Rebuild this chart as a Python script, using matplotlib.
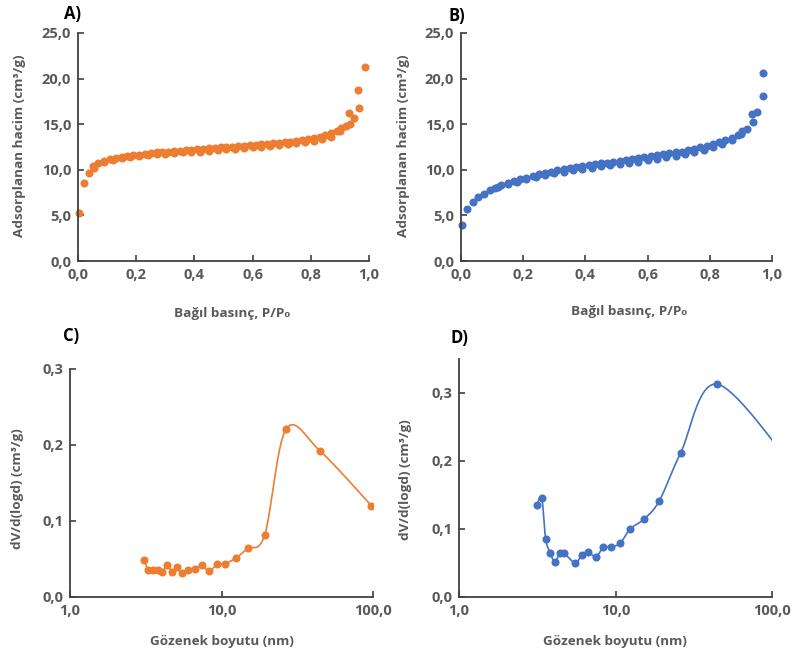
import numpy as np
import matplotlib
matplotlib.use("Agg")
import matplotlib.pyplot as plt
from matplotlib.ticker import FuncFormatter, FixedLocator

plt.rcParams['font.family'] = ['Open Sans', 'DejaVu Sans']

ORANGE = '#ED7D31'
BLUE = '#4472C4'
GREY = '#595959'
AXIS = '#404040'

# A) isotherm, sample 1
a_ads_p = [0.005, 0.022, 0.038, 0.053, 0.07, 0.09, 0.11, 0.13, 0.15, 0.17, 0.19, 0.21,
           0.23, 0.25, 0.27, 0.29, 0.31, 0.33, 0.35, 0.37, 0.39, 0.41, 0.43, 0.45, 0.47,
           0.49, 0.51, 0.53, 0.55, 0.57, 0.59, 0.61, 0.63, 0.65, 0.67, 0.69, 0.71, 0.73,
           0.75, 0.77, 0.79, 0.81, 0.83, 0.85, 0.87, 0.89, 0.905, 0.92, 0.935, 0.95,
           0.966, 0.986]
a_ads_v = [5.3, 8.6, 9.7, 10.4, 10.8, 11.0, 11.15, 11.3, 11.4, 11.5, 11.6, 11.65,
           11.75, 11.8, 11.9, 11.95, 12.0, 12.05, 12.1, 12.15, 12.2, 12.25, 12.3, 12.35, 12.4,
           12.45, 12.5, 12.55, 12.6, 12.65, 12.7, 12.75, 12.8, 12.85, 12.9, 12.95, 13.0, 13.1,
           13.2, 13.3, 13.4, 13.5, 13.65, 13.8, 14.0, 14.25, 14.55, 14.8, 15.0, 15.7,
           16.8, 21.3]
a_des_p = [0.963, 0.932, 0.90, 0.87, 0.84, 0.81, 0.78, 0.75, 0.72, 0.69, 0.66, 0.63,
           0.60, 0.57, 0.54, 0.51, 0.48, 0.45, 0.42, 0.39, 0.36, 0.33, 0.30, 0.27, 0.24,
           0.21, 0.18, 0.15, 0.12, 0.09, 0.055]
a_des_v = [18.8, 16.2, 14.3, 13.6, 13.4, 13.2, 13.05, 12.95, 12.8, 12.7, 12.6, 12.55,
           12.45, 12.4, 12.3, 12.25, 12.15, 12.1, 12.0, 11.95, 11.9, 11.85, 11.75, 11.7, 11.6,
           11.5, 11.4, 11.3, 11.1, 10.85, 10.2]

# B) isotherm, sample 2
b_ads_p = [0.003, 0.018, 0.038, 0.056, 0.075, 0.093, 0.11, 0.13, 0.15, 0.17, 0.19, 0.21,
           0.23, 0.25, 0.27, 0.29, 0.31, 0.33, 0.35, 0.37, 0.39, 0.41, 0.43, 0.45, 0.47,
           0.49, 0.51, 0.53, 0.55, 0.57, 0.59, 0.61, 0.63, 0.65, 0.67, 0.69, 0.71, 0.73,
           0.75, 0.77, 0.79, 0.81, 0.83, 0.85, 0.87, 0.89, 0.905, 0.92, 0.938, 0.953, 0.972]
b_ads_v = [4.0, 5.7, 6.5, 7.0, 7.4, 7.75, 8.05, 8.3, 8.55, 8.75, 8.95, 9.15,
           9.35, 9.5, 9.65, 9.8, 9.95, 10.05, 10.2, 10.3, 10.4, 10.5, 10.6, 10.7, 10.8,
           10.9, 11.0, 11.1, 11.2, 11.3, 11.4, 11.5, 11.6, 11.7, 11.8, 11.9, 12.0, 12.15,
           12.3, 12.45, 12.6, 12.8, 13.0, 13.25, 13.5, 13.85, 14.2, 14.5, 15.2, 16.3, 18.1]
b_des_p = [0.972, 0.936, 0.90, 0.87, 0.84, 0.81, 0.78, 0.75, 0.72, 0.69, 0.66, 0.63,
           0.60, 0.57, 0.54, 0.51, 0.48, 0.45, 0.42, 0.39, 0.36, 0.33, 0.30, 0.27, 0.24,
           0.21, 0.18, 0.15, 0.12]
b_des_v = [20.65, 16.1, 13.9, 13.3, 12.8, 12.45, 12.15, 11.95, 11.75, 11.55, 11.35, 11.2,
           11.05, 10.9, 10.8, 10.65, 10.5, 10.4, 10.25, 10.1, 9.95, 9.8, 9.6, 9.4, 9.2,
           9.0, 8.7, 8.4, 8.1]

# C) pore size distribution, sample 1
c_d = [3.09, 3.29, 3.55, 3.8, 4.07, 4.39, 4.73, 5.1, 5.45, 6.04, 6.68, 7.4, 8.3,
       9.33, 10.5, 12.4, 14.9, 19.3, 26.7, 44.8, 97.7]
c_dv = [0.049, 0.035, 0.035, 0.035, 0.033, 0.042, 0.033, 0.039, 0.031, 0.035, 0.037,
        0.042, 0.034, 0.043, 0.044, 0.051, 0.064, 0.082, 0.221, 0.192, 0.120]

# D) pore size distribution, sample 2 (last point lies past the 100 nm edge)
d_d = [3.14, 3.38, 3.58, 3.83, 4.1, 4.4, 4.71, 5.54, 6.08, 6.7, 7.5, 8.36, 9.4,
       10.7, 12.4, 15.1, 19.0, 26.1, 44.5, 140.0]
d_dv = [0.135, 0.145, 0.085, 0.065, 0.051, 0.064, 0.064, 0.050, 0.062, 0.066, 0.059,
        0.073, 0.074, 0.079, 0.100, 0.114, 0.141, 0.212, 0.313, 0.188]


def comma(fmt):
    return FuncFormatter(lambda v, pos: (fmt % v).replace('.', ','))


def smooth_log(xs, ys, w, h, ymax, n=30):
    # Catmull-Rom style bezier through the points, in log-x screen units
    px = np.log10(xs) / 2.0 * w
    py = np.asarray(ys) / ymax * h
    pts = np.column_stack([px, py])
    out = []
    for i in range(len(pts) - 1):
        p0 = pts[i - 1] if i > 0 else pts[i]
        p1, p2 = pts[i], pts[i + 1]
        p3 = pts[i + 2] if i + 2 < len(pts) else pts[i + 1]
        c1 = p1 + (p2 - p0) / 6.0
        c2 = p2 - (p3 - p1) / 6.0
        t = np.linspace(0, 1, n)[:, None]
        seg = ((1 - t) ** 3 * p1 + 3 * (1 - t) ** 2 * t * c1
               + 3 * (1 - t) * t ** 2 * c2 + t ** 3 * p2)
        out.append(seg)
    seg = np.vstack(out)
    return 10 ** (seg[:, 0] / w * 2.0), seg[:, 1] / h * ymax


def style(ax):
    for s in ('top', 'right'):
        ax.spines[s].set_visible(False)
    for s in ('left', 'bottom'):
        ax.spines[s].set_color(AXIS)
        ax.spines[s].set_linewidth(1.3)
    ax.tick_params(direction='in', length=4, width=1.2, color=AXIS,
                   labelsize=10.5, labelcolor=GREY, pad=5)
    for lab in ax.get_xticklabels() + ax.get_yticklabels():
        lab.set_fontweight('bold')


W, H = 792, 655
fig = plt.figure(figsize=(W / 100, H / 100), dpi=100)


def box(l, t, r, b):
    return [l / W, 1 - b / H, (r - l) / W, (b - t) / H]


axA = fig.add_axes(box(78, 33, 369, 261))
axB = fig.add_axes(box(461, 33, 772, 261))
axC = fig.add_axes(box(70, 369, 373, 597))
axD = fig.add_axes(box(459, 359, 772, 597))

iso_ylabel = 'Adsorplanan hacim (cm³/g)'
iso_xlabel = 'Bağıl basınç, P/P₀'
psd_ylabel = 'dV/d(logd) (cm³/g)'
psd_xlabel = 'Gözenek boyutu (nm)'

for ax, col, p1, v1, p2, v2 in [(axA, ORANGE, a_ads_p, a_ads_v, a_des_p, a_des_v),
                                 (axB, BLUE, b_ads_p, b_ads_v, b_des_p, b_des_v)]:
    ax.plot(p1, v1, 'o', color=col, ms=5.8, mec='none', clip_on=False)
    ax.plot(p2, v2, 'o', color=col, ms=5.8, mec='none', clip_on=False)
    ax.set_xlim(0, 1)
    ax.set_ylim(0, 25)
    ax.xaxis.set_major_locator(FixedLocator(np.arange(0, 1.01, 0.2)))
    ax.yaxis.set_major_locator(FixedLocator(np.arange(0, 25.1, 5)))
    ax.xaxis.set_major_formatter(comma('%.1f'))
    ax.yaxis.set_major_formatter(comma('%.1f'))
    style(ax)

for ax, col, d, dv, ymax, w, h in [(axC, ORANGE, c_d, c_dv, 0.3, 303, 228),
                                   (axD, BLUE, d_d, d_dv, 0.35, 313, 238)]:
    ax.set_xscale('log')
    sx, sy = smooth_log(d, dv, w, h, ymax)
    ax.plot(sx, sy, '-', color=col, lw=1.2)
    ax.plot(d, dv, 'o', color=col, ms=5.8, mec='none')
    ax.set_xlim(1, 100)
    ax.set_ylim(0, ymax)
    ax.xaxis.set_major_locator(FixedLocator([1, 10, 100]))
    ax.xaxis.set_minor_locator(FixedLocator([]))
    ax.yaxis.set_major_locator(FixedLocator([0, 0.1, 0.2, 0.3]))
    ax.xaxis.set_major_formatter(comma('%.1f'))
    ax.yaxis.set_major_formatter(comma('%.1f'))
    style(ax)

xlab_kw = dict(fontsize=9.7, fontweight='bold', color=GREY, ha='center', va='center')
ylab_kw = dict(xlab_kw, fontsize=9.7, rotation=90)
fig.text(20 / W, 1 - 146 / H, iso_ylabel, **ylab_kw)
fig.text(404 / W, 1 - 146 / H, iso_ylabel, **ylab_kw)
fig.text(232 / W, 1 - 314 / H, iso_xlabel, **xlab_kw)
fig.text(629 / W, 1 - 311 / H, iso_xlabel, **xlab_kw)
fig.text(18 / W, 1 - 489 / H, psd_ylabel, **ylab_kw)
fig.text(406 / W, 1 - 480 / H, psd_ylabel, **ylab_kw)
fig.text(222 / W, 1 - 642 / H, psd_xlabel, **xlab_kw)
fig.text(615 / W, 1 - 642 / H, psd_xlabel, **xlab_kw)

title_kw = dict(fontsize=12, fontweight='bold', color='black', ha='left', va='center')
fig.text(64 / W, 1 - 14 / H, 'A)', **title_kw)
fig.text(449 / W, 1 - 16 / H, 'B)', **title_kw)
fig.text(63 / W, 1 - 336 / H, 'C)', **title_kw)
fig.text(450 / W, 1 - 338 / H, 'D)', **title_kw)

fig.savefig('out.png', dpi=100)
